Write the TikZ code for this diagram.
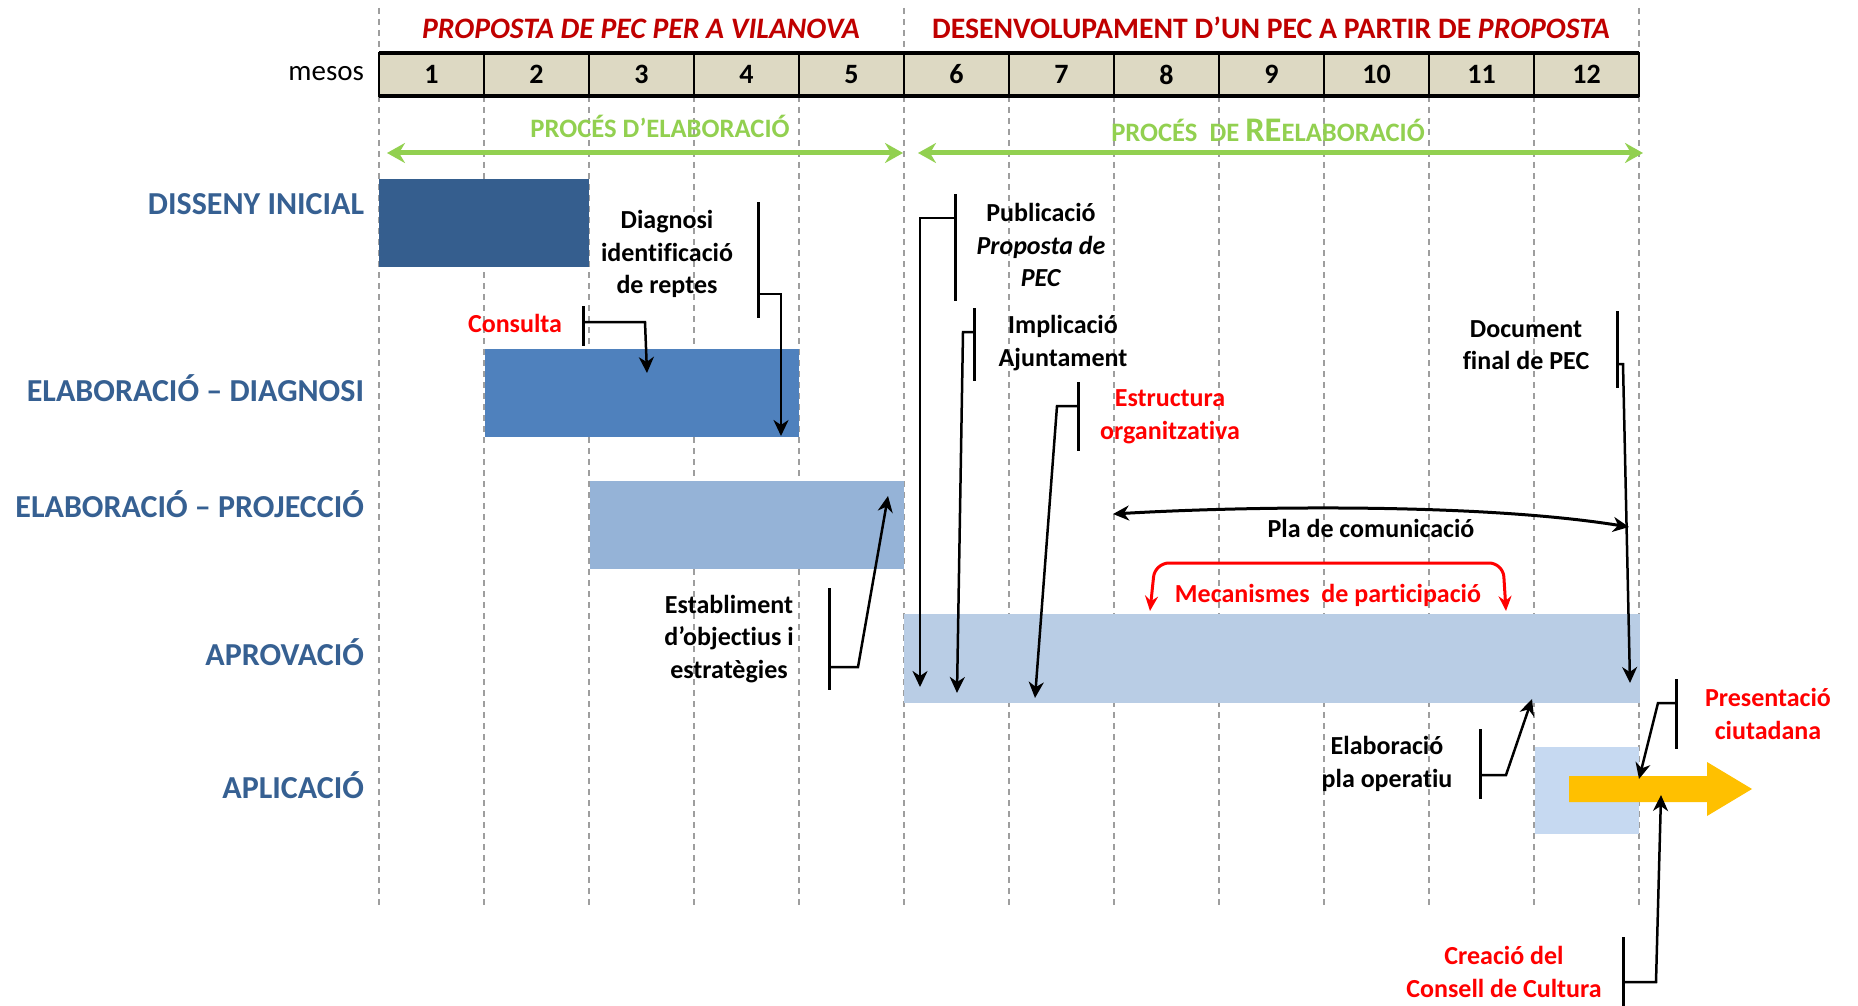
\documentclass[tikz,border=0pt]{standalone}
\usepackage{fontspec}
\setmainfont{Carlito}[Ligatures=NoCommon]
\usetikzlibrary{arrows.meta}
\definecolor{titred}{HTML}{C00000}
\definecolor{redl}{HTML}{FF0000}
\definecolor{lblue}{HTML}{366092}
\definecolor{tanc}{HTML}{DDD9C3}
\definecolor{grn}{HTML}{92D050}
\definecolor{yel}{HTML}{FFC000}
\definecolor{barA}{HTML}{355E8E}
\definecolor{barB}{HTML}{4F81BD}
\definecolor{barC}{HTML}{95B3D7}
\definecolor{barD}{HTML}{B9CDE5}
\definecolor{barE}{HTML}{C6D9F1}
\begin{document}
\begin{tikzpicture}[x=1pt,y=-1pt,
  every node/.style={inner sep=0pt, outer sep=0pt},
  ann/.style={font=\fontsize{26}{32.5}\selectfont\bfseries, align=center},
  rowlab/.style={font=\fontsize{32}{38}\selectfont\bfseries, text=lblue, anchor=base east},
  bar/.style={anchor=north west, draw=none},
  cell/.style={draw=black, line width=2pt, fill=tanc, minimum width=105pt, minimum height=43pt, font=\fontsize{28}{28}\selectfont\bfseries},
  gridl/.style={draw=black!38, line width=1.5pt, dash pattern=on 6pt off 5pt},
  brk/.style={line width=3pt},
  conn/.style={line width=2.5pt, -{Stealth[length=16pt,width=15pt,inset=5pt]}},
  connboth/.style={line width=3pt, {Stealth[length=16pt,width=15pt,inset=5pt]}-{Stealth[length=16pt,width=15pt,inset=5pt]}},
  redconn/.style={draw=redl, line width=3pt, {Stealth[length=15pt,width=13pt,inset=5pt]}-{Stealth[length=15pt,width=13pt,inset=5pt]}},
  garrow/.style={draw=grn, line width=5pt, {Stealth[length=18pt,width=20pt,inset=6pt]}-{Stealth[length=18pt,width=20pt,inset=6pt]}}
]
\fill[white] (0,0) rectangle (1858,1006);
\useasboundingbox (0,0) rectangle (1858,1006);

% grid lines
\foreach \i in {0,...,12} \draw[gridl] ({379+105*\i},96) -- ({379+105*\i},905);
\foreach \i in {0,5,12} \draw[gridl] ({379+105*\i},8) -- ({379+105*\i},53);

% header
\foreach \i in {1,...,12} \node[cell] (m\i) at ({379+105*\i-52.5},74.5) {\i};
\draw[line width=3.5pt] (m1.north west) -- (m12.north east);
\draw[line width=3.5pt] (m1.south west) -- (m12.south east);
\node[font=\fontsize{29}{29}\selectfont, anchor=base east] (mesos) at (364,81) {mesos};

% titles
\node[font=\fontsize{29.7}{29.7}\selectfont\bfseries\itshape, text=titred, anchor=base] (tit1) at (641,39) {PROPOSTA DE PEC PER A VILANOVA};
\node[font=\fontsize{29.7}{29.7}\selectfont\bfseries, text=titred, anchor=base] (tit2) at (1271,39) {DESENVOLUPAMENT D’UN PEC A PARTIR DE \textit{PROPOSTA}};

% green process arrows
\node[font=\fontsize{26.6}{26.6}\selectfont\bfseries, text=grn, anchor=base] (gl1) at (660,138) {PROCÉS D’ELABORACIÓ};
\node[font=\fontsize{26.6}{26.6}\selectfont\bfseries, text=grn, anchor=base] (gl2) at (1268,142) {PROCÉS\ \ DE {\fontsize{34.5}{34.5}\selectfont RE}ELABORACIÓ};
\coordinate (ga1) at (387,153); \coordinate (ga2) at (903,153);
\coordinate (gb1) at (918,153); \coordinate (gb2) at (1643,153);
\draw[garrow] (ga1) -- (ga2);
\draw[garrow] (gb1) -- (gb2);

% row labels
\node[rowlab] (r1) at (364,214) {DISSENY INICIAL};
\node[rowlab] (r2) at (364,401) {ELABORACIÓ – DIAGNOSI};
\node[rowlab] (r3) at (364,517) {ELABORACIÓ – PROJECCIÓ};
\node[rowlab] (r4) at (364,665) {APROVACIÓ};
\node[rowlab] (r5) at (364,798) {APLICACIÓ};

% bars
\node[bar, fill=barA, minimum width=210pt, minimum height=88pt] (b1) at (378.5,179) {};
\node[bar, fill=barB, minimum width=314pt, minimum height=88pt] (b2) at (484.5,349) {};
\node[bar, fill=barC, minimum width=314pt, minimum height=88pt] (b3) at (589.5,481) {};
\node[bar, fill=barD, minimum width=736pt, minimum height=89pt] (b4) at (903.5,614) {};
\node[bar, fill=barE, minimum width=104pt, minimum height=87pt] (b5) at (1535,747) {};

% yellow arrow
\fill[yel] (1569,776) -- (1707,776) -- (1707,762) -- (1752,789) -- (1707,816) -- (1707,802) -- (1569,802) -- cycle;

% Consulta
\node[ann, text=redl] (tcons) at (515,323) {Consulta};
\coordinate (kc1) at (583,306); \coordinate (kc2) at (583,346);
\coordinate (kc3) at (583,322); \coordinate (kc4) at (645,322); \coordinate (kc5) at (647,373);
\draw[brk] (kc1) -- (kc2);
\draw[conn] (kc3) -- (kc4) -- (kc5);

% Diagnosi
\node[ann] (tdiag) at (667,254) {Diagnosi\\identificació\\de reptes};
\coordinate (kd1) at (758,202); \coordinate (kd2) at (758,318);
\coordinate (kd3) at (758,294); \coordinate (kd4) at (781,294); \coordinate (kd5) at (781,436);
\draw[brk] (kd1) -- (kd2);
\draw[conn] (kd3) -- (kd4) -- (kd5);

% Establiment
\node[ann] (testab) at (729,639) {Establiment\\d’objectius i\\estratègies};
\coordinate (ke1) at (829,588); \coordinate (ke2) at (829,690);
\coordinate (ke3) at (829,667); \coordinate (ke4) at (858,667); \coordinate (ke5) at (888,496);
\draw[brk] (ke1) -- (ke2);
\draw[conn] (ke3) -- (ke4) -- (ke5);

% Publicacio
\node[ann] (tpub) at (1041,245) {Publicació\\\textit{Proposta de}\\\textit{PEC}};
\coordinate (kp1) at (955,194); \coordinate (kp2) at (955,301);
\coordinate (kp3) at (955,218); \coordinate (kp4) at (920,218); \coordinate (kp5) at (920,687);
\draw[brk] (kp1) -- (kp2);
\draw[conn] (kp3) -- (kp4) -- (kp5);

% Implicacio
\node[ann] (timp) at (1063,343) {Implicació\\Ajuntament};
\coordinate (ki1) at (974,308); \coordinate (ki2) at (974,381);
\coordinate (ki3) at (974,332); \coordinate (ki4) at (963,332); \coordinate (ki5) at (957,693);
\draw[brk] (ki1) -- (ki2);
\draw[conn] (ki3) -- (ki4) -- (ki5);

% Estructura
\node[ann, text=redl] (testr) at (1170,417) {Estructura\\organitzativa};
\coordinate (ks1) at (1078,382); \coordinate (ks2) at (1078,451);
\coordinate (ks3) at (1078,406); \coordinate (ks4) at (1057,406); \coordinate (ks5) at (1035,698);
\draw[brk] (ks1) -- (ks2);
\draw[conn] (ks3) -- (ks4) -- (ks5);

% Document final
\node[ann] (tdoc) at (1526,345) {Document\\final de PEC};
\coordinate (kf1) at (1617,311); \coordinate (kf2) at (1617,388);
\coordinate (kf3) at (1617,364); \coordinate (kf4) at (1623,364); \coordinate (kf5) at (1630,683);
\draw[brk] (kf1) -- (kf2);
\draw[conn] (kf3) -- (kf4) -- (kf5);

% Pla de comunicacio
\node[ann] (tpla) at (1371,528) {Pla de comunicació};
\coordinate (pl1) at (1113,514); \coordinate (pl2) at (1629,527);
\draw[connboth] (pl1) .. controls (1250,506) and (1480,503) .. (pl2);

% Mecanismes
\node[ann, text=redl] (tmec) at (1328,595) {Mecanismes\ \ de participació};
\coordinate (mc1) at (1150,611); \coordinate (mc2) at (1506,611);
\draw[redconn, rounded corners=14pt] (mc1) -- (1155,563) -- (1503,563) -- (mc2);

% Elaboracio pla operatiu
\node[ann] (tela) at (1387,764) {Elaboració\\pla operatiu};
\coordinate (ko1) at (1480,729); \coordinate (ko2) at (1480,799);
\coordinate (ko3) at (1480,775); \coordinate (ko4) at (1506,775); \coordinate (ko5) at (1532,699);
\draw[brk] (ko1) -- (ko2);
\draw[conn] (ko3) -- (ko4) -- (ko5);

% Presentacio
\node[ann, text=redl] (tpre) at (1768,714) {Presentació\\ciutadana};
\coordinate (kr1) at (1676,679); \coordinate (kr2) at (1676,749);
\coordinate (kr3) at (1676,703); \coordinate (kr4) at (1658,703); \coordinate (kr5) at (1639,779);
\draw[brk] (kr1) -- (kr2);
\draw[conn] (kr3) -- (kr4) -- (kr5);

% Creacio Consell
\node[ann, text=redl] (tcre) at (1504,972) {Creació del\\Consell de Cultura};
\coordinate (kx1) at (1623,937); \coordinate (kx2) at (1623,1006);
\coordinate (kx3) at (1623,982); \coordinate (kx4) at (1656,982); \coordinate (kx5) at (1661,795);
\draw[brk] (kx1) -- (kx2);
\draw[conn] (kx3) -- (kx4) -- (kx5);
\end{tikzpicture}
\end{document}
